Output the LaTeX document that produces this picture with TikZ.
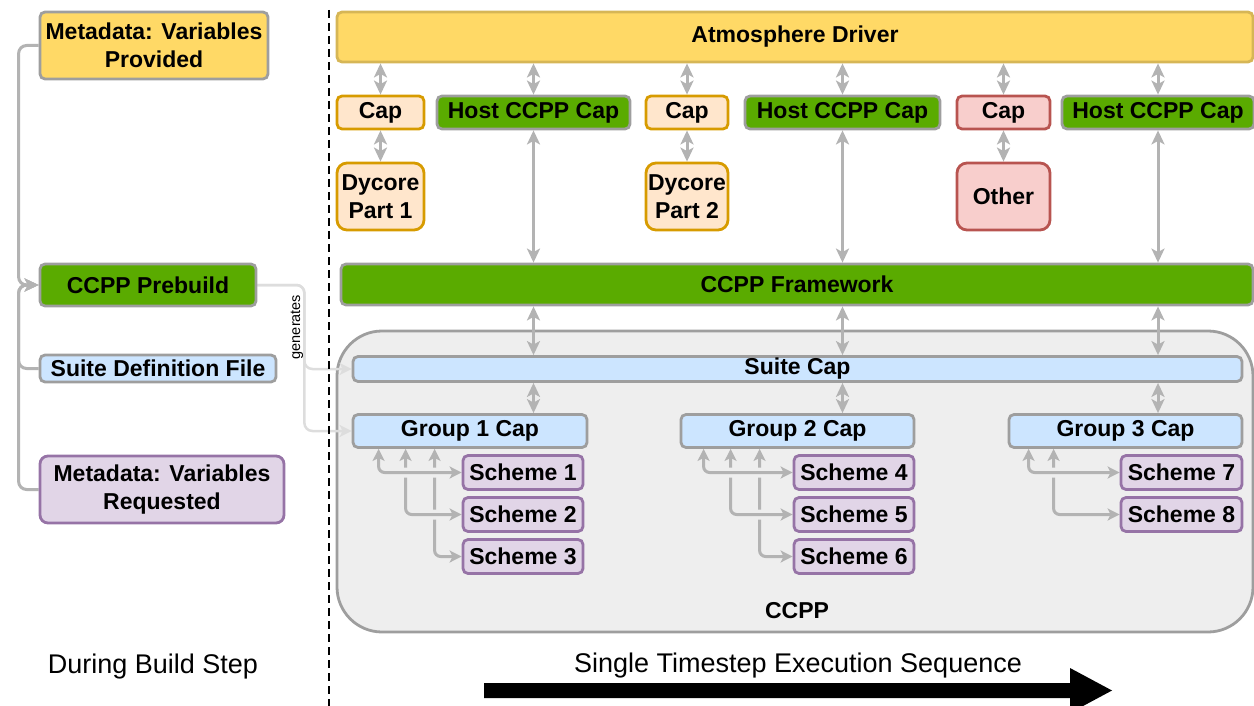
\documentclass[tikz,border=0pt]{standalone}
\usepackage{fontspec}
\setmainfont{Liberation Sans}
\usetikzlibrary{arrows.meta}
\pgfdeclarelayer{bglayer}
\pgfdeclarelayer{midlayer}
\pgfsetlayers{bglayer,midlayer,main}
\definecolor{yel}{HTML}{FFD966}
\definecolor{yelb}{HTML}{D6B656}
\definecolor{grn}{HTML}{5AAB00}
\definecolor{bordg}{HTML}{9E9E9E}
\definecolor{lblue}{HTML}{CCE5FF}
\definecolor{orf}{HTML}{FFE6CC}
\definecolor{orb}{HTML}{D79B00}
\definecolor{redf}{HTML}{F8CECC}
\definecolor{redb}{HTML}{B85450}
\definecolor{purf}{HTML}{E1D5E7}
\definecolor{purb}{HTML}{9673A6}
\definecolor{ccppbg}{HTML}{EEEEEE}
\definecolor{argray}{HTML}{B3B3B3}
\definecolor{gengray}{HTML}{DDDDDD}
\newcommand\bxfont{\fontsize{23}{27.5}\selectfont\bfseries}
\tikzset{
  box/.style={rectangle, rounded corners=5pt, line width=2.8pt, inner sep=0pt, align=center, font=\bxfont, text=black},
  yelbox/.style={box, fill=yel, draw=bordg},
  grnbox/.style={box, fill=grn, draw=bordg},
  bluebox/.style={box, fill=lblue, draw=bordg},
  orbox/.style={box, fill=orf, draw=orb},
  redbox/.style={box, fill=redf, draw=redb},
  purbox/.style={box, fill=purf, draw=purb},
  tipa/.tip={Stealth[length=14pt,width=13pt,inset=3.5pt]},
  tipb/.tip={Stealth[length=12pt,width=12pt,inset=3pt]},
  dconn/.style={draw=argray, line width=3pt, arrows={tipa-tipa}},
  gconn/.style={draw=argray, line width=3pt, rounded corners=6pt, arrows={tipb-tipb}},
  halo/.style={preaction={draw=ccppbg, line width=10pt, arrows=-}},
  lconn/.style={draw=argray, line width=3pt, rounded corners=8pt, arrows={-tipa}},
  genconn/.style={draw=gengray, line width=2.5pt, rounded corners=8pt, arrows={-tipb}},
  plain/.style={font=\fontsize{27}{31}\selectfont, inner sep=0pt}
}
\begin{document}
\begin{tikzpicture}[x=1pt,y=-1pt]
\useasboundingbox (0,0) rectangle (1254,706);

% left column
\node[yelbox, minimum width=228pt, minimum height=67pt] (mprov) at (154,45.5) {Metadata: Variables\\Provided};
\node[grnbox, minimum width=216pt, minimum height=42pt] (prebuild) at (148,285) {CCPP Prebuild};
\node[bluebox, minimum width=236pt, minimum height=27pt] (sdf) at (158,368.5) {Suite Definition File};
\node[purbox, minimum width=244pt, minimum height=67pt, rounded corners=8pt] (mreq) at (162,489.5) {Metadata: Variables\\Requested};
\node[plain] (build) at (153,667) {During Build Step};
\node[font=\fontsize{14.5}{16}\selectfont, rotate=90, inner sep=0pt] (gen) at (297,327) {generates};

% separator
\draw[black, line width=2.2pt, dash pattern=on 8pt off 5pt] (329,10) -- (329,706);

% container
\begin{pgfonlayer}{bglayer}
\node[draw=bordg, fill=ccppbg, line width=2.8pt, rounded corners=45pt, minimum width=916pt, minimum height=301pt, inner sep=0pt] (ccpp) at (795,481.5) {};
\end{pgfonlayer}

% right side
\node[box, fill=yel, draw=yelb, minimum width=916pt, minimum height=50pt] (driver) at (795,37) {Atmosphere Driver};
\node[orbox, minimum width=87pt, minimum height=33pt] (cap1) at (380.5,112.5) {Cap};
\node[grnbox, minimum width=193pt, minimum height=33pt] (host1) at (533.5,112.5) {Host CCPP Cap};
\node[orbox, minimum width=82pt, minimum height=33pt] (cap2) at (687,112.5) {Cap};
\node[grnbox, minimum width=195pt, minimum height=33pt] (host2) at (842.5,112.5) {Host CCPP Cap};
\node[redbox, minimum width=93pt, minimum height=33pt] (cap3) at (1003.5,112.5) {Cap};
\node[grnbox, minimum width=192pt, minimum height=33pt] (host3) at (1158,112.5) {Host CCPP Cap};
\node[orbox, rounded corners=10pt, minimum width=87pt, minimum height=67pt] (dy1) at (380.5,196.5) {Dycore\\Part 1};
\node[orbox, rounded corners=10pt, minimum width=82pt, minimum height=67pt] (dy2) at (687,196.5) {Dycore\\Part 2};
\node[redbox, rounded corners=10pt, minimum width=93pt, minimum height=67pt] (other) at (1003.5,196.5) {Other};
\node[grnbox, minimum width=912pt, minimum height=41pt] (fw) at (797,284.5) {CCPP Framework};
\node[bluebox, minimum width=889pt, minimum height=25pt] (suite) at (797.5,369) {Suite Cap};
\node[bluebox, minimum width=234pt, minimum height=33pt] (g1) at (470,431) {Group 1 Cap};
\node[bluebox, minimum width=233pt, minimum height=33pt] (g2) at (797.5,431) {Group 2 Cap};
\node[bluebox, minimum width=233pt, minimum height=33pt] (g3) at (1125.5,431) {Group 3 Cap};
\node[purbox, minimum width=120pt, minimum height=34pt] (s1) at (523,472.5) {Scheme 1};
\node[purbox, minimum width=120pt, minimum height=34pt] (s2) at (523,514.5) {Scheme 2};
\node[purbox, minimum width=120pt, minimum height=34pt] (s3) at (523,556.5) {Scheme 3};
\node[purbox, minimum width=120pt, minimum height=34pt] (s4) at (854,472.5) {Scheme 4};
\node[purbox, minimum width=120pt, minimum height=34pt] (s5) at (854,514.5) {Scheme 5};
\node[purbox, minimum width=120pt, minimum height=34pt] (s6) at (854,556.5) {Scheme 6};
\node[purbox, minimum width=121pt, minimum height=34pt] (s7) at (1181.5,472.5) {Scheme 7};
\node[purbox, minimum width=121pt, minimum height=34pt] (s8) at (1181.5,514.5) {Scheme 8};
\node[font=\bxfont, inner sep=0pt] (ccpplbl) at (797,611) {CCPP};
\node[plain] (seq) at (798,666) {Single Timestep Execution Sequence};
\fill[black] (484,683) -- (1070,683) -- (1070,668) -- (1112,690.5) -- (1070,713) -- (1070,698) -- (484,698) -- cycle;

\begin{pgfonlayer}{midlayer}
% driver to caps
\foreach \n in {cap1,host1,cap2,host2,cap3,host3}
  \draw[dconn] (\n.north |- driver.south) -- (\n.north);
\draw[dconn] (cap1.south) -- (dy1.north);
\draw[dconn] (cap2.south) -- (dy2.north);
\draw[dconn] (cap3.south) -- (other.north);
\foreach \n in {host1,host2,host3}{
  \draw[dconn] (\n.south) -- (\n.south |- fw.north);
  \draw[dconn] (fw.south -| \n) -- (suite.north -| \n);
}
\draw[dconn] (suite.south -| host1) -- (g1.north -| host1);
\draw[dconn] (suite.south -| host2) -- (g2.north -| host2);
\draw[dconn] (suite.south -| host3) -- (g3.north -| host3);
% group to schemes
\draw[gconn] ([xshift=83pt]g1.south west) |- (s3.west);
\draw[gconn, halo] ([xshift=54pt]g1.south west) |- (s2.west);
\draw[gconn, halo] ([xshift=27pt]g1.south west) |- (s1.west);
\draw[gconn] ([xshift=80pt]g2.south west) |- (s6.west);
\draw[gconn, halo] ([xshift=51pt]g2.south west) |- (s5.west);
\draw[gconn, halo] ([xshift=24pt]g2.south west) |- (s4.west);
\draw[gconn] ([xshift=46pt]g3.south west) |- (s8.west);
\draw[gconn, halo] ([xshift=21pt]g3.south west) |- (s7.west);
% build-step connectors
\draw[lconn] (mprov.west) -- ++(-20,0) |- (prebuild.west);
\draw[lconn] (sdf.west) -- ++(-20,0) |- (prebuild.west);
\draw[lconn] (mreq.west) -- ++(-20,0) |- (prebuild.west);
\coordinate (gturn) at ([xshift=47pt]prebuild.east);
\draw[genconn] (prebuild.east) -- (gturn) |- (suite.west);
\draw[genconn] (prebuild.east) -- (gturn) |- (g1.west);
\end{pgfonlayer}
\end{tikzpicture}
\end{document}
